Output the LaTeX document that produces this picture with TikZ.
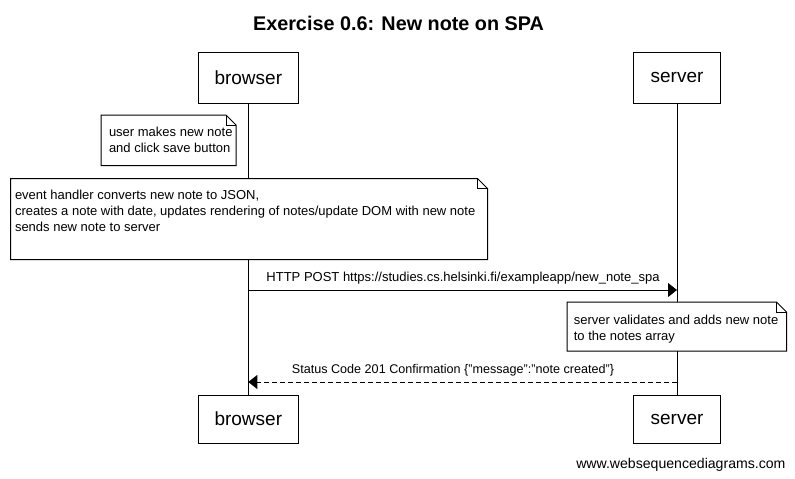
\documentclass[tikz,border=0pt]{standalone}
\usepackage{fontspec}
\setmainfont{Liberation Sans}
\usetikzlibrary{arrows.meta}
\begin{document}
\begin{tikzpicture}[x=1pt,y=-1pt,line width=1pt,
  actor/.style={draw,inner sep=0pt,font=\fontsize{19}{22}\selectfont},
  notetext/.style={inner sep=0pt,align=left,font=\fontsize{13}{16}\selectfont},
  notebox/.style={draw,fill=white},
  msglabel/.style={inner sep=0pt,font=\fontsize{13}{16}\selectfont},
  sync/.style={-{Triangle[length=9pt,width=14pt]}},
  reply/.style={-{Triangle[length=9pt,width=14pt]},dash pattern=on 5pt off 3pt}]
\useasboundingbox (0,0) rectangle (795,479);
\fill[white] (0,0) rectangle (795,479);
% title
\node[inner sep=0pt,anchor=base,font=\bfseries\fontsize{19.8}{22}\selectfont] (title) at (398.5,30) {Exercise 0.6: New note on SPA};
% participants
\node[actor,minimum width=100pt,minimum height=51pt] (bt) at (248.3,77.5) {browser};
\node[actor,minimum width=87pt,minimum height=51pt] (st) at (677,77.5) {server};
\node[actor,minimum width=100pt,minimum height=48pt] (bb) at (248.3,419) {browser};
\node[actor,minimum width=87pt,minimum height=48pt] (sb) at (677,419) {server};
% lifelines
\draw (bt.south) -- (bb.north);
\draw (st.south) -- (sb.north);
% note 1
\draw[notebox] (101,115) -- (226,115) -- (236,125) -- (236,165.5) -- (101,165.5) -- cycle;
\draw (226,115) -- (226,125) -- (236,125);
\node[notetext,anchor=base west] (n1) at (108.5,152.5) {user makes new note\\and click save button};
% note 2
\draw[notebox] (10.5,178.5) -- (477.5,178.5) -- (487.5,188.5) -- (487.5,259.5) -- (10.5,259.5) -- cycle;
\draw (477.5,178.5) -- (477.5,188.5) -- (487.5,188.5);
\node[notetext,anchor=base west] (n2) at (14.5,231) {event handler converts new note to JSON,\\creates a note with date, updates rendering of notes/update DOM with new note\\sends new note to server};
% message 1
\coordinate (m1s) at (bt.south |- 0,290);
\coordinate (m1e) at (st.south |- 0,290);
\draw[sync] (m1s) -- (m1e);
\node[msglabel,anchor=base] (l1) at (463,281) {HTTP POST https://studies.cs.helsinki.fi/exampleapp/new\_note\_spa};
% note 3
\draw[notebox] (567,302) -- (776.5,302) -- (786.5,312) -- (786.5,351) -- (567,351) -- cycle;
\draw (776.5,302) -- (776.5,312) -- (786.5,312);
\node[notetext,anchor=base west] (n3) at (573.3,340.3) {server validates and adds new note\\to the notes array};
% message 2
\coordinate (m2s) at (st.south |- 0,382);
\coordinate (m2e) at (bt.south |- 0,382);
\draw[reply] (m2s) -- (m2e);
\node[msglabel,anchor=base,font=\fontsize{12.6}{16}\selectfont] (l2) at (453,373.3) {Status Code 201 Confirmation \{"message":"note created"\}};
% footer
\node[inner sep=0pt,anchor=base east,font=\fontsize{14.1}{16}\selectfont] (foot) at (786,468) {www.websequencediagrams.com};
\end{tikzpicture}
\end{document}
